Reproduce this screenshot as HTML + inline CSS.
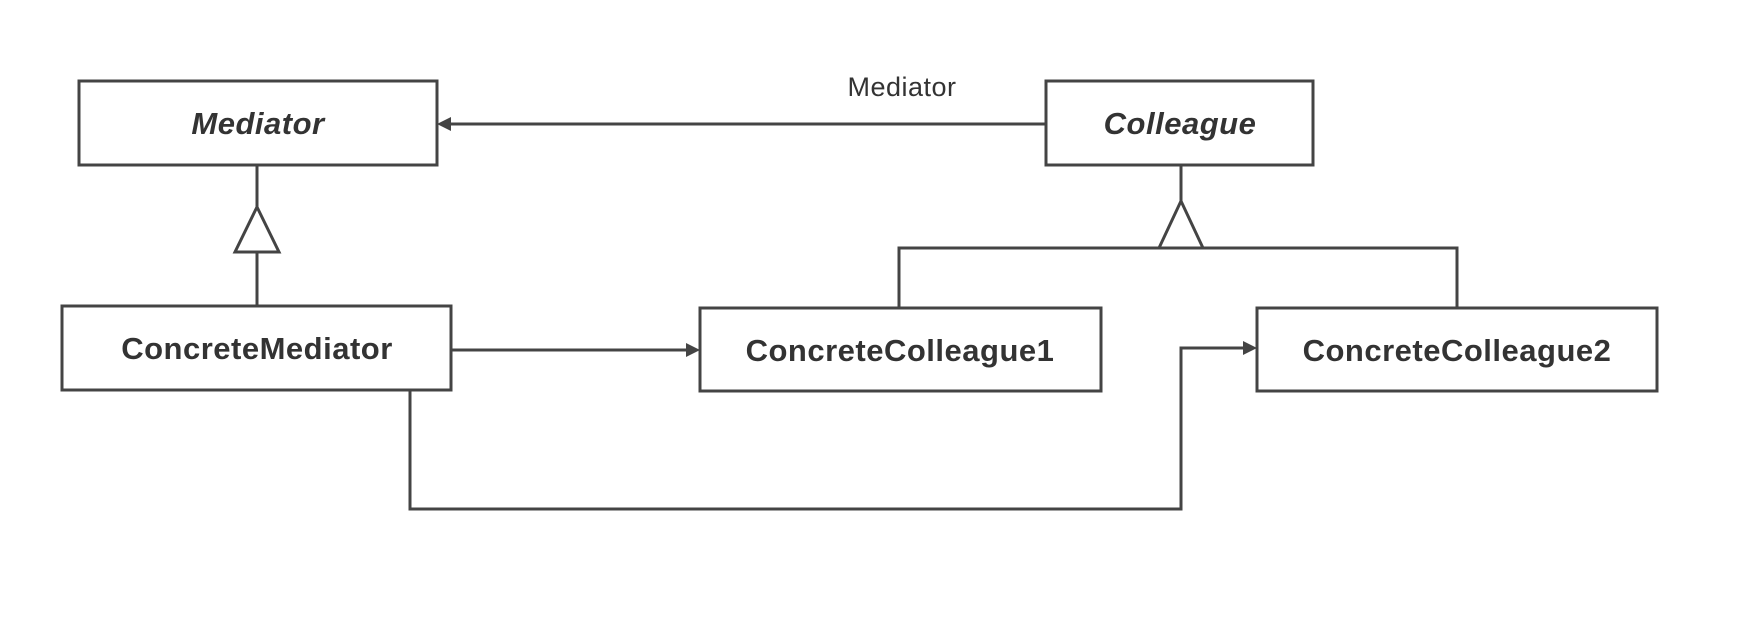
<!DOCTYPE html>
<html><head><style>
body{margin:0;background:#fff}
svg text{font-family:"Liberation Sans",sans-serif;fill:#333}
</style></head><body>
<svg width="1755" height="633" viewBox="0 0 1755 633" xmlns="http://www.w3.org/2000/svg">
<g fill="none" stroke="#444" stroke-width="3">
<rect x="79" y="81" width="358" height="84"/>
<rect x="1046" y="81" width="267" height="84"/>
<rect x="62" y="306" width="389" height="84"/>
<rect x="700" y="308" width="401" height="83"/>
<rect x="1257" y="308" width="400" height="83"/>
<line x1="1046" y1="124" x2="448" y2="124"/>
<line x1="257" y1="165" x2="257" y2="207"/>
<polygon points="257,207 235,252 279,252"/>
<line x1="257" y1="252" x2="257" y2="306"/>
<line x1="1181" y1="165" x2="1181" y2="201"/>
<polyline points="1159,248 1181,201 1203,248"/>
<polyline points="899,308 899,248 1457,248 1457,308"/>
<line x1="451" y1="350" x2="688" y2="350"/>
<polyline points="410,390 410,509 1181,509 1181,348 1246,348"/>
</g>
<g fill="#444">
<polygon points="437,124 451,117 451,131"/>
<polygon points="700,350 686,343 686,357"/>
<polygon points="1257,348 1243,341 1243,355"/>
</g>
<text x="902" y="96" font-size="27" text-anchor="middle" letter-spacing="0.5">Mediator</text>
<text x="258" y="134" font-size="31" font-weight="bold" font-style="italic" text-anchor="middle" letter-spacing="0.5">Mediator</text>
<text x="1180" y="134" font-size="31" font-weight="bold" font-style="italic" text-anchor="middle" letter-spacing="0.5">Colleague</text>
<text x="257" y="359" font-size="31" font-weight="bold" text-anchor="middle" letter-spacing="0.5">ConcreteMediator</text>
<text x="900" y="361" font-size="31" font-weight="bold" text-anchor="middle" letter-spacing="0.5">ConcreteColleague1</text>
<text x="1457" y="361" font-size="31" font-weight="bold" text-anchor="middle" letter-spacing="0.5">ConcreteColleague2</text>
</svg>
</body></html>
